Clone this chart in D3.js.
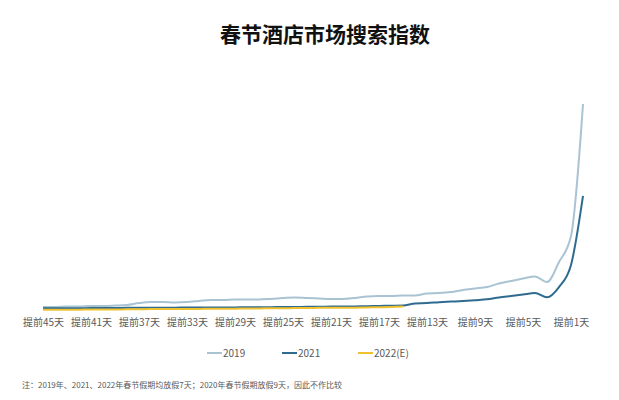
<!DOCTYPE html>
<html><head><meta charset="utf-8">
<script src="https://cdn.jsdelivr.net/npm/d3@7"></script>
<style>body{margin:0;background:#fff;}svg{display:block;font-family:"Noto Sans CJK SC","Noto Sans",sans-serif;}</style>
</head><body>
<svg id="c" width="619" height="400"></svg>
<script>
const title = "春节酒店市场搜索指数";
const days = d3.range(45, -1, -1); // 提前45天 ... 当天
const tickDays = [45,41,37,33,29,25,21,17,13,9,5,1];
const tickLabels = tickDays.map(d => "提前" + d + "天");
const series2019 = [2.4,2.4,2.6,2.6,2.9,2.9,3.1,3.4,4.3,4.8,4.8,4.6,4.8,5.3,5.8,5.8,6.0,6.0,6.0,6.3,6.7,7.0,6.7,6.5,6.3,6.3,6.7,7.5,7.7,7.7,7.9,7.9,8.9,9.1,9.6,10.6,11.3,12.0,13.7,14.9,16.1,17.1,14.4,24.0,36.5,100];
const series2021 = [1.8,1.8,1.8,1.8,1.9,1.9,1.9,2.0,2.0,2.0,2.1,2.1,2.2,2.2,2.2,2.2,2.2,2.3,2.3,2.3,2.4,2.4,2.5,2.5,2.6,2.6,2.7,2.8,2.9,3.0,3.1,4.1,4.3,4.7,5.0,5.3,5.7,6.1,7.0,7.7,8.4,9.1,7.1,12.0,22.6,55.8];
const series2022 = [1.1,1.1,1.1,1.1,1.2,1.2,1.2,1.3,1.3,1.4,1.4,1.4,1.5,1.5,1.6,1.6,1.6,1.7,1.7,1.8,1.8,1.9,1.9,2.0,2.0,2.1,2.1,2.2,2.3,2.4,2.6];
const legendNames = ["2019","2021","2022(E)"];
const colors = ["#a9c3d3","#2e6b8f","#f0c232"];

const svg = d3.select("#c");
const x = d3.scaleLinear().domain([45, 0]).range([43, 583]);
const y = d3.scaleLinear().domain([0, 100]).range([312, 104]);

svg.append("text").attr("x", 325).attr("y", 42).attr("text-anchor","middle")
  .attr("font-size", 21).attr("font-weight", "bold").attr("fill", "#111").text(title);

const xAxis = d3.axisBottom(x).tickValues(tickDays).tickFormat((d,i) => tickLabels[i]).tickSize(0).tickPadding(0);
const gx = svg.append("g").attr("transform", "translate(0,318)").call(xAxis);
gx.select(".domain").remove();
gx.selectAll("text").attr("font-size", 10).attr("fill", "#595959").attr("dy", "0.75em")
  .attr("font-family", '"Noto Sans CJK SC",sans-serif');

const line = d3.line().x(d => x(d[0])).y(d => y(d[1])).curve(d3.curveMonotoneX);
const allSeries = [series2019, series2021, series2022];
allSeries.forEach((s, i) => {
  const pts = s.map((v, k) => [days[k], v]);
  svg.append("path").datum(pts).attr("d", line).attr("fill", "none")
    .attr("stroke", colors[i]).attr("stroke-width", 2).attr("stroke-linejoin","round");
});

const legX = [207, 282, 358];
legendNames.forEach((n, i) => {
  svg.append("line").attr("x1", legX[i]).attr("x2", legX[i] + 15).attr("y1", 353).attr("y2", 353)
    .attr("stroke", colors[i]).attr("stroke-width", 2);
  svg.append("text").attr("x", legX[i] + 16).attr("y", 356.5).attr("font-size", 10)
    .attr("fill", "#595959").text(n);
});

svg.append("text").attr("x", 22).attr("y", 388).attr("font-size", 8).attr("fill", "#595959")
  .text("注：2019年、2021、2022年春节假期均放假7天；2020年春节假期放假9天，因此不作比较");
</script>
</body></html>
